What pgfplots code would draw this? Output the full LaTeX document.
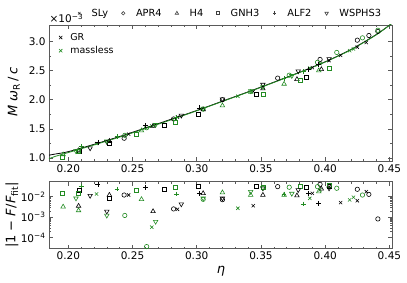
\documentclass[border=0pt]{standalone}
\usepackage{fontspec}
\setmainfont{DejaVu Sans}
\usepackage{pgfplots}
\pgfplotsset{compat=1.18}
\definecolor{mygreen}{RGB}{34,139,34}
\definecolor{framegray}{RGB}{90,90,90}
\pgfplotsset{
  base/.style={
    scale only axis, width=343pt, xmin=0.185, xmax=0.452,
    xtick={0.20,0.25,0.30,0.35,0.40,0.45},
    minor x tick num=4,
    tick align=inside,
    axis line style={framegray, line width=0.6pt},
    every tick/.style={framegray, line width=0.5pt},
    major tick length=4pt, minor tick length=2pt,
    tick label style={font=\fontsize{10.5}{12}\selectfont, black},
    /pgf/number format/assume math mode=true,
    xticklabel style={/pgf/number format/fixed, /pgf/number format/fixed zerofill, /pgf/number format/precision=2},
    every axis plot/.append style={line width=0.6pt},
  },
  bk/.style={only marks, black},
  gn/.style={only marks, mygreen},
  sly/.style={mark=x, mark size=2.3pt},
  apr/.style={mark=o, mark size=2.2pt},
  hf/.style={mark=triangle, mark size=2.6pt},
  gnh/.style={mark=square, mark size=2.0pt},
  alf/.style={mark=+, mark size=2.4pt},
  wsp/.style={mark=triangle, mark size=2.6pt, mark options={rotate=180}},
}
\begin{document}
\begin{tikzpicture}
\useasboundingbox (0,0) rectangle (407pt,282pt);
% ---------------- top panel ----------------
\begin{axis}[base, at={(49pt,121pt)}, anchor=south west, height=136pt,
  ymin=0.95, ymax=3.28, ytick={1.0,1.5,2.0,2.5,3.0}, minor y tick num=1,
  yticklabel style={/pgf/number format/fixed, /pgf/number format/fixed zerofill, /pgf/number format/precision=1},
  legend style={at={(0.02,0.97)}, anchor=north west, draw=none, fill=none,
    font=\fontsize{9.5}{11}\selectfont, row sep=0.5pt,
    /tikz/every odd column/.append style={column sep=6pt}},
  legend cell align=left,
  legend image code/.code={\draw[#1] plot coordinates {(0pt,0pt)};},
]
\addplot[bk, sly] coordinates {(0.247,1.41)(0.285,1.70)(0.344,2.14)(0.390,2.55)(0.403,2.67)(0.412,2.76)(0.425,2.90)(0.432,2.98)};
\addlegendentry{GR}
\addplot[gn, sly] coordinates {(0.222,1.25)(0.265,1.55)(0.332,2.06)(0.388,2.54)(0.396,2.62)(0.419,2.84)(0.422,2.87)};
\addlegendentry{massless}
\addplot[black, line width=0.8pt, smooth, no markers, forget plot] coordinates {
(0.185,1.05)(0.19,1.07)(0.20,1.11)(0.22,1.235)(0.24,1.37)(0.26,1.515)(0.28,1.665)(0.30,1.815)(0.32,1.975)(0.34,2.135)(0.36,2.30)(0.38,2.47)(0.40,2.65)(0.42,2.86)(0.44,3.12)(0.452,3.31)};
\addplot[mygreen, line width=0.8pt, smooth, no markers, forget plot] coordinates {
(0.185,0.99)(0.19,1.03)(0.20,1.095)(0.22,1.225)(0.24,1.36)(0.26,1.505)(0.28,1.655)(0.30,1.81)(0.32,1.97)(0.34,2.13)(0.36,2.295)(0.38,2.465)(0.40,2.645)(0.42,2.855)(0.44,3.115)(0.452,3.31)};
\addplot[bk, apr, forget plot] coordinates {(0.2435,1.34)(0.282,1.67)(0.320,2.00)(0.363,2.37)(0.396,2.69)(0.425,3.02)(0.434,3.10)(0.441,3.17)};
\addplot[gn, apr, forget plot] coordinates {(0.244,1.39)(0.261,1.52)(0.305,1.84)(0.372,2.42)(0.394,2.64)(0.409,2.81)(0.429,3.06)(0.441,3.19)};
\addplot[bk, hf, forget plot] coordinates {(0.208,1.13)(0.232,1.29)(0.266,1.55)(0.305,1.83)(0.3515,2.19)(0.378,2.35)(0.397,2.52)};
\addplot[gn, hf, forget plot] coordinates {(0.196,1.06)(0.208,1.12)(0.257,1.47)(0.320,1.90)(0.342,2.13)(0.368,2.27)(0.395,2.50)};
\addplot[bk, gnh, forget plot] coordinates {(0.2085,1.12)(0.232,1.26)(0.275,1.57)(0.3015,1.75)(0.346,2.09)(0.385,2.39)(0.403,2.54)};
\addplot[gn, gnh, forget plot] coordinates {(0.195,1.01)(0.208,1.11)(0.253,1.40)(0.283,1.61)(0.3515,2.09)(0.381,2.33)(0.403,2.54)};
\addplot[bk, alf, forget plot] coordinates {(0.223,1.27)(0.260,1.56)(0.302,1.86)(0.387,2.52)(0.395,2.60)};
\addplot[gn, alf, forget plot] coordinates {(0.210,1.20)(0.238,1.37)(0.284,1.70)(0.368,2.36)(0.383,2.48)};
\addplot[bk, wsp, forget plot] coordinates {(0.217,1.17)(0.230,1.28)(0.288,1.73)(0.320,2.01)(0.3515,2.26)(0.379,2.49)(0.403,2.70)};
\addplot[gn, wsp, forget plot] coordinates {(0.206,1.12)(0.230,1.29)(0.268,1.57)(0.305,1.85)(0.342,2.15)(0.3515,2.22)(0.374,2.41)};
\end{axis}
% ---------------- EOS legend (hidden axis) ----------------
\begin{axis}[scale only axis, width=343pt, height=136pt, at={(49pt,121pt)}, anchor=south west,
  hide axis, xmin=0, xmax=1, ymin=0, ymax=1,
  legend columns=6,
  legend style={at={(0.5,1)}, anchor=center, yshift=11.7pt, xshift=10pt, draw=none, fill=none,
    font=\fontsize{9.8}{11}\selectfont,
    /tikz/every odd column/.append style={column sep=9pt},
    /tikz/every even column/.append style={column sep=11.5pt}},
  legend image code/.code={\draw[#1] plot coordinates {(0pt,0pt)};},
]
\addlegendimage{only marks, black!75, mark=x, mark size=1.8pt, line width=0.6pt}
\addlegendentry{SLy}
\addlegendimage{only marks, black!75, mark=o, mark size=1.7pt, line width=0.6pt}
\addlegendentry{APR4}
\addlegendimage{only marks, black!75, mark=triangle, mark size=2.0pt, line width=0.6pt}
\addlegendentry{H4}
\addlegendimage{only marks, black!75, mark=square, mark size=1.5pt, line width=0.6pt}
\addlegendentry{GNH3}
\addlegendimage{only marks, black!75, mark=+, mark size=1.8pt, line width=0.6pt}
\addlegendentry{ALF2}
\addlegendimage{only marks, black!75, mark=triangle, mark size=2.0pt, mark options={rotate=180}, line width=0.6pt}
\addlegendentry{WSPHS3}
\end{axis}
% ---------------- bottom panel ----------------
\begin{axis}[base, at={(49pt,33.5pt)}, anchor=south west, height=67pt,
  ymode=log, ymin=2.9e-5, ymax=0.055, ytick={1e-4,1e-3,1e-2},
  yticklabels={10\textsuperscript{−4},10\textsuperscript{−3},10\textsuperscript{−2}},
]
\addplot[bk, sly] coordinates {(0.247,0.0120)(0.285,0.0024)(0.344,0.0036)(0.390,0.0145)(0.403,0.0309)(0.412,0.0051)(0.425,0.0063)(0.432,0.0174)};
\addplot[gn, sly] coordinates {(0.222,0.0135)(0.265,0.00032)(0.332,0.0027)(0.388,0.0083)(0.396,0.0214)(0.419,0.0069)(0.422,0.0093)};
\addplot[bk, apr] coordinates {(0.2435,0.0120)(0.282,0.0025)(0.320,0.0071)(0.363,0.0309)(0.396,0.040)(0.425,0.0229)(0.434,0.0129)(0.441,0.00081)};
\addplot[gn, apr] coordinates {(0.244,0.0012)(0.261,0.000036)(0.305,0.0074)(0.372,0.0288)(0.394,0.0309)(0.409,0.0257)(0.429,0.0120)};
\addplot[bk, hf] coordinates {(0.208,0.0035)(0.232,0.0120)(0.266,0.0019)(0.305,0.0145)(0.3515,0.0120)(0.378,0.0112)(0.397,0.0240)};
\addplot[gn, hf] coordinates {(0.196,0.0032)(0.208,0.0021)(0.257,0.0074)(0.320,0.0158)(0.342,0.0120)(0.368,0.0120)(0.395,0.0178)};
\addplot[bk, gnh] coordinates {(0.2085,0.0214)(0.232,0.0083)(0.275,0.0229)(0.3015,0.0309)(0.346,0.0309)(0.385,0.0288)(0.403,0.0309)};
\addplot[gn, gnh] coordinates {(0.195,0.0145)(0.208,0.0145)(0.253,0.0214)(0.283,0.0288)(0.3515,0.0288)(0.381,0.0309)(0.403,0.0372)};
\addplot[bk, alf] coordinates {(0.223,0.040)(0.260,0.0288)(0.302,0.0145)(0.387,0.0145)(0.395,0.0047)};
\addplot[gn, alf] coordinates {(0.210,0.0331)(0.238,0.0234)(0.284,0.0135)(0.368,0.0135)(0.383,0.0044)};
\addplot[bk, wsp] coordinates {(0.217,0.0112)(0.230,0.0019)(0.288,0.0043)(0.320,0.0083)(0.3515,0.0257)(0.379,0.0214)(0.403,0.0257)};
\addplot[gn, wsp] coordinates {(0.206,0.0083)(0.230,0.0012)(0.268,0.00060)(0.305,0.0083)(0.342,0.0174)(0.3515,0.0269)(0.374,0.0141)};
\end{axis}
% ---------------- labels ----------------
\node[anchor=base west, font=\fontsize{10.5}{12}\selectfont, inner sep=0pt] at (49.5pt,259pt) {×10\textsuperscript{−3}};
\node[rotate=90, font=\fontsize{13}{15}\selectfont, inner sep=0pt] at (14pt,190pt) {\textit{M ω}\textsubscript{R}\,/\,\textit{c}};
\node[rotate=90, font=\fontsize{13}{15}\selectfont, inner sep=0pt] at (12pt,67pt) {|1 − \textit{F}/\textit{F}\textsubscript{fit}|};
\node[font=\fontsize{13}{15}\selectfont, inner sep=0pt] at (221pt,11pt) {\textit{η}};
\end{tikzpicture}
\end{document}
